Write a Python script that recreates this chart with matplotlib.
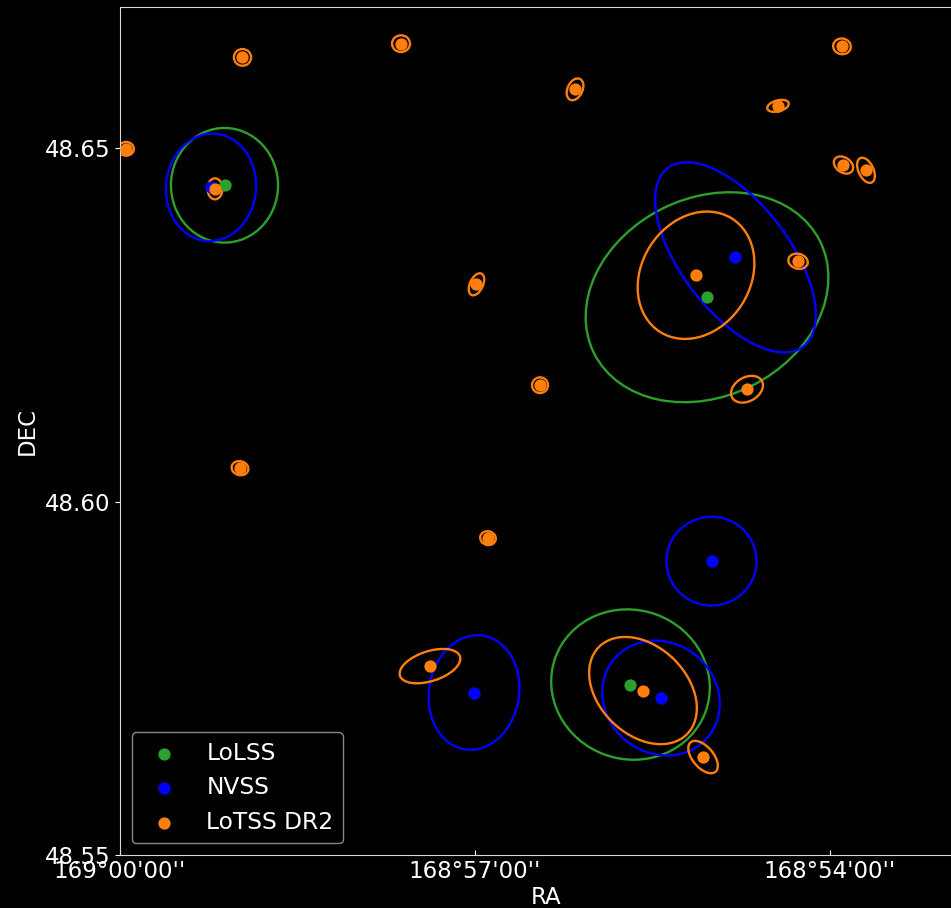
import matplotlib
matplotlib.use("Agg")
import matplotlib.pyplot as plt
from matplotlib.patches import Ellipse

plt.style.use("dark_background")
plt.rcParams["font.family"] = ["DejaVu Sans"]

# Source catalogues: positions in degrees, ellipse axes in arcsec, angle in degrees
lolss_ra = [168.98528, 168.91732, 168.92810]
lolss_dec = [48.64477, 48.62893, 48.57412]
lolss_w = [54.3, 128.0, 81.0]
lolss_h = [58.4, 101.0, 76.0]
lolss_ang = [0.0, -26.6, 20.0]

nvss_ra = [168.98718, 168.91331, 168.91669, 168.95014, 168.92380]
nvss_dec = [48.64448, 48.63458, 48.59158, 48.57299, 48.57221]
nvss_w = [45.7, 114.0, 45.7, 58.7, 62.0]
nvss_h = [54.8, 55.0, 45.2, 45.7, 56.0]
nvss_ang = [5.0, 53.0, 0.0, -81.0, 40.0]

lotss_ra = [168.99915, 168.98662, 168.98275, 168.96042, 168.93591, 168.94979,
            168.94084, 168.98310, 168.94817, 168.91887, 168.90450, 168.91169,
            168.92634, 168.91788, 168.95634, 168.89831, 168.90732, 168.89810,
            168.89493]
lotss_dec = [48.64993, 48.64427, 48.66287, 48.66481, 48.65835, 48.63076,
             48.61648, 48.60474, 48.59484, 48.63204, 48.63402, 48.61591,
             48.57327, 48.56386, 48.57673, 48.66443, 48.65601, 48.64764,
             48.64689]
lotss_w = [8.0, 7.6, 8.7, 9.1, 11.7, 12.0, 8.1, 8.6, 8.0, 68.3, 10.0, 17.3,
           63.0, 19.6, 32.0, 9.0, 11.2, 10.7, 13.7]
lotss_h = [7.0, 10.7, 8.5, 8.5, 7.6, 6.6, 8.0, 7.1, 7.0, 55.2, 7.6, 12.2,
           44.7, 10.6, 15.2, 8.0, 5.6, 7.6, 7.6]
lotss_ang = [0.0, 0.0, 0.0, 0.0, -65.0, -65.0, 0.0, 15.0, 15.0, -58.0, 15.0,
             -30.0, 45.0, 50.0, -18.0, 10.0, -15.0, 35.0, 65.0]

ra_ticks = [169.0, 168.95, 168.90]
ra_tick_labels = ["169°00'00''", "168°57'00''", "168°54'00''"]
dec_ticks = [48.55, 48.60, 48.65]
dec_tick_labels = ["48.55", "48.60", "48.65"]

catalogues = [
    ("LoLSS", "#2ca02c", lolss_ra, lolss_dec, lolss_w, lolss_h, lolss_ang),
    ("NVSS", "#0000ff", nvss_ra, nvss_dec, nvss_w, nvss_h, nvss_ang),
    ("LoTSS DR2", "#ff7f0e", lotss_ra, lotss_dec, lotss_w, lotss_h, lotss_ang),
]

fig = plt.figure(figsize=(9.51, 9.08), dpi=100)
fig.patch.set_facecolor("black")
ax = fig.add_axes([120 / 951, 53 / 908, 852 / 951, 848 / 908])
ax.set_facecolor("black")

for name, color, ra, dec, w, h, ang in catalogues:
    ax.scatter(ra, dec, s=78, color=color, label=name, zorder=3, linewidths=0)
    for x, y, ww, hh, a in zip(ra, dec, w, h, ang):
        ax.add_patch(Ellipse((x, y), ww / 3600, hh / 3600, angle=a,
                             fill=False, edgecolor=color, lw=1.7, zorder=2))

ax.set_xlim(169.0, 168.88)
ax.set_ylim(48.55, 48.67)

ax.set_xticks(ra_ticks)
ax.set_xticklabels(ra_tick_labels)
ax.set_yticks(dec_ticks)
ax.set_yticklabels(dec_tick_labels)
ax.tick_params(axis="x", direction="in", labelsize=16.5, colors="white")
ax.tick_params(axis="y", direction="out", labelsize=16.5, colors="white")
for sp in ax.spines.values():
    sp.set_color("#d8d8d8")
    sp.set_linewidth(0.8)

ax.set_xlabel("RA", fontsize=16.5, labelpad=2)
ax.set_ylabel("DEC", fontsize=16.5)

leg = ax.legend(loc="lower left", fontsize=16.8, frameon=True,
                facecolor="black", edgecolor="#aaaaaa")

fig.savefig("out.png", dpi=100, facecolor="black")
